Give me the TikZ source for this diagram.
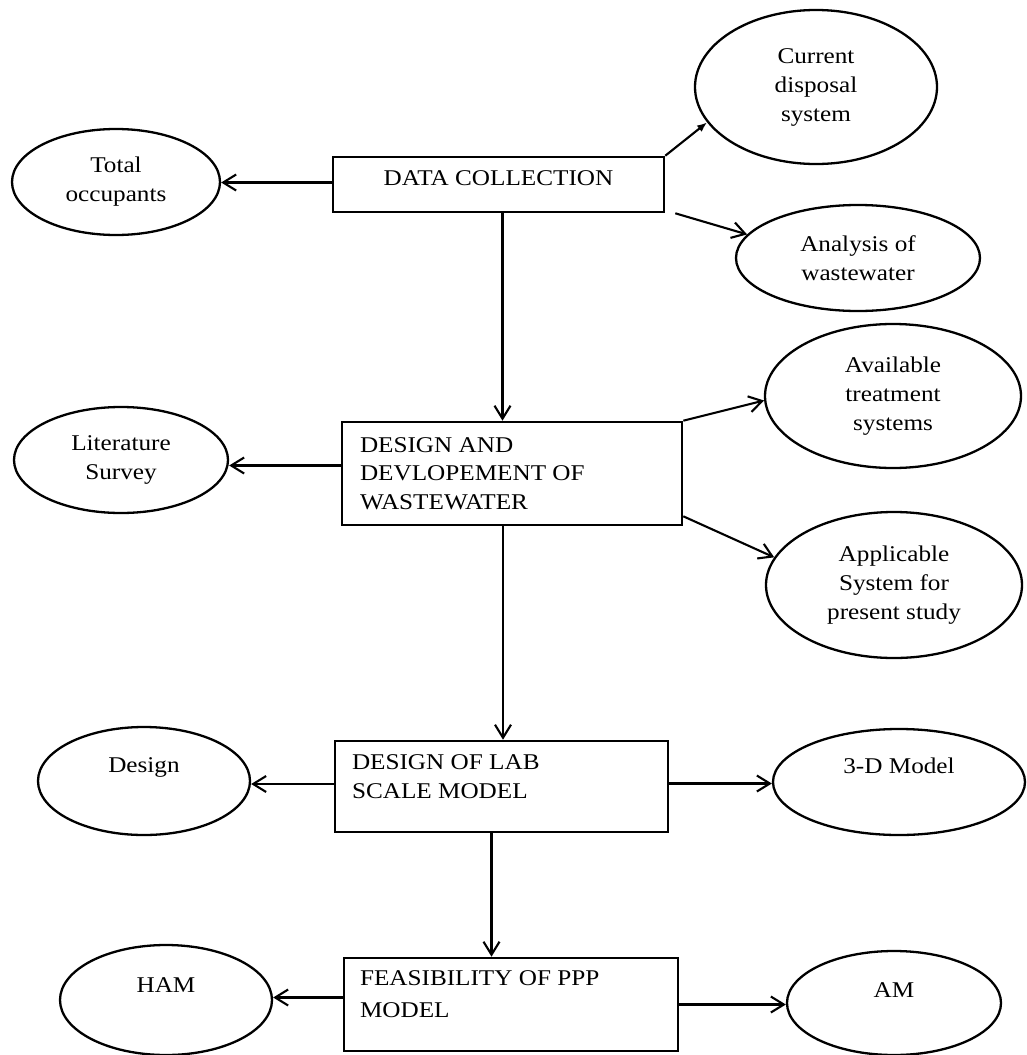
\documentclass[tikz,border=0pt]{standalone}
\usepackage{fontspec}
\setmainfont{Liberation Serif}[FakeStretch=1.12]
\usetikzlibrary{shapes.geometric,arrows.meta}

\begin{document}
\begin{tikzpicture}[x=1pt,y=-1pt,
  every node/.style={font=\fontsize{22.5pt}{29pt}\selectfont},
  oval/.style={draw, ellipse, line width=2.3pt, inner sep=0pt, align=center},
  stage/.style={draw, rectangle, line width=2.6pt, inner sep=0pt},
  arr/.style={line width=2.1pt, -{Straight Barb[length=13pt,width=16pt,line width=2.1pt]}},
  tip/.style={line width=2.1pt, -{Latex[length=10pt,width=8pt]}},
]
% page
\fill[white] (0,0) rectangle (1027,1055);
\useasboundingbox (0,0) rectangle (1027,1055);

% main stages
\node[stage, minimum width=331pt, minimum height=55pt] (dc) at (498.5,184.5)
  {\raisebox{6pt}[\height][\depth]{DATA COLLECTION}};
\node[stage] (dd) at (512,473.5)
  {\begin{minipage}[c][103pt][t]{340pt}\leftskip=18pt\rule{0pt}{30pt}DESIGN AND\\[-0.5pt]DEVLOPEMENT OF\\[-0.5pt]WASTEWATER\end{minipage}};
\node[stage] (lab) at (501.5,786.5)
  {\begin{minipage}[c][91pt][t]{333pt}\leftskip=17pt\rule{0pt}{28pt}DESIGN OF LAB\\SCALE MODEL\end{minipage}};
\node[stage] (feas) at (511,1004.5)
  {\begin{minipage}[c][93pt][t]{334pt}\leftskip=16pt\rule{0pt}{27pt}FEASIBILITY OF PPP\\[3pt]MODEL\end{minipage}};

% side items
\node[oval, minimum width=208pt, minimum height=106pt] (tot) at (116,182) {Total\\occupants};
\node[oval, minimum width=242pt, minimum height=154pt] (cur) at (816,87) {Current\\disposal\\system};
\node[oval, minimum width=244pt, minimum height=106pt] (ana) at (858,258) {Analysis of\\wastewater};
\node[oval, minimum width=214pt, minimum height=106pt] (lit) at (121,460) {Literature\\Survey};
\node[oval, minimum width=256pt, minimum height=144pt] (avail) at (893,396) {Available\\treatment\\systems};
\node[oval, minimum width=256pt, minimum height=146pt] (app) at (894,585) {Applicable\\System for\\present study};
\node[oval, minimum width=212pt, minimum height=108pt] (des) at (144,781) {\raisebox{9pt}[0pt][0pt]{Design}};
\node[oval, minimum width=252pt, minimum height=106pt] (td) at (899,782) {\raisebox{9pt}[0pt][0pt]{3-D Model}};
\node[oval, minimum width=212pt, minimum height=110pt] (ham) at (166,1000) {\raisebox{8pt}[0pt][0pt]{HAM}};
\node[oval, minimum width=214pt, minimum height=104pt] (am) at (894,1003) {\raisebox{6pt}[0pt][0pt]{AM}};

% connectors
\draw[arr] ([yshift=2pt]dc.west) -- ([yshift=2pt]dc.west -| tot.east);
\draw[tip] (dc.north east) -- (cur.198);
\draw[arr] ([xshift=10pt]dc.south east) -- (ana.168);
\draw[arr] ([xshift=4pt]dc.south) -- ([xshift=4pt]dc.south |- dd.north);

\draw[arr] ([yshift=8pt]dd.west) -- ([yshift=8pt]dd.west -| lit.east);
\draw[arr] (dd.north east) -- (avail.182);
\draw[arr] ([yshift=10pt]dd.south east) -- (app.167);
\draw[arr] ([xshift=-9pt]dd.south) -- ([xshift=-9pt]dd.south |- lab.north);

\draw[arr] ([yshift=2.5pt]lab.west) -- ([yshift=2.5pt]lab.west -| des.east);
\draw[arr] ([yshift=3pt]lab.east) -- ([yshift=3pt]lab.east -| td.west);
\draw[arr] ([xshift=-10pt]lab.south) -- ([xshift=-10pt]lab.south |- feas.north);

\draw[arr] ([yshift=7pt]feas.west) -- ([yshift=7pt]feas.west -| ham.east);
\draw[arr] (feas.east) -- (feas.east -| am.west);
\end{tikzpicture}
\end{document}
